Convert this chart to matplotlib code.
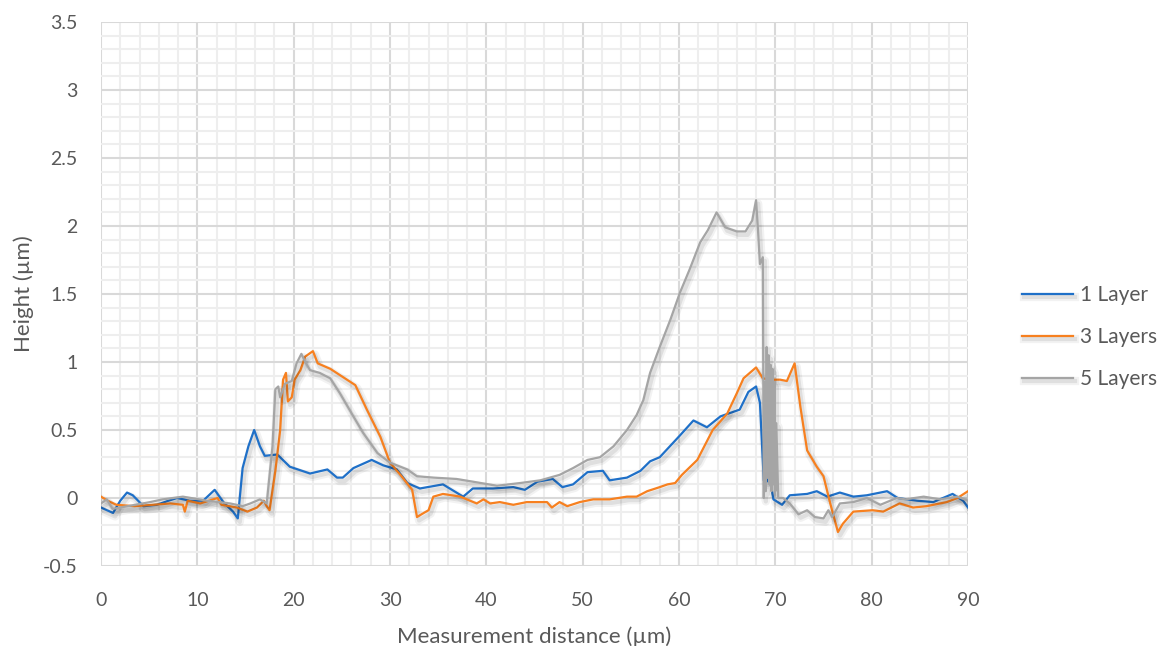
import numpy as np
import matplotlib
matplotlib.use("Agg")
import matplotlib.pyplot as plt
import matplotlib.patheffects as pe
from matplotlib.ticker import MultipleLocator

plt.rcParams['font.family'] = ['Lato', 'DejaVu Sans']

# 1 Layer
x1 = [0, 1.25, 2.0, 2.7, 3.3, 4.4, 5.8, 7.0, 7.9, 9.2, 10.6, 11.8, 12.7, 13.7, 14.2,
      14.7, 15.3, 15.9, 16.5, 17.0, 18.3, 19.6, 21.7, 23.5, 24.5, 25.1, 26.2, 28.1, 29.3, 30.7,
      31.8, 33.1, 35.5, 37.6, 38.6, 40.7, 42.8, 44.0, 45.3, 46.9, 47.9, 49.0, 50.5, 52.1, 52.8,
      54.6, 56.0, 57.0, 58.0, 60.1, 61.5, 62.9, 64.3, 66.3, 67.2, 68.0, 68.4, 68.8, 69.1, 69.4,
      69.8, 70.7, 71.5, 73.3, 74.3, 75.4, 76.7, 78.1, 79.5, 81.6, 82.7, 84.7, 86.4, 88.4, 89.5, 90]
y1 = [-0.07, -0.11, -0.02, 0.04, 0.02, -0.06, -0.05, -0.02, 0.0, -0.02, -0.02, 0.06, -0.03, -0.1, -0.15,
      0.22, 0.38, 0.5, 0.38, 0.31, 0.32, 0.23, 0.18, 0.21, 0.15, 0.15, 0.22, 0.28, 0.24, 0.21,
      0.11, 0.07, 0.1, 0.01, 0.07, 0.07, 0.08, 0.06, 0.12, 0.14, 0.08, 0.1, 0.19, 0.2, 0.13,
      0.15, 0.2, 0.27, 0.3, 0.46, 0.57, 0.52, 0.6, 0.65, 0.78, 0.82, 0.7, 0.13, 0.12, 0.15,
      -0.01, -0.05, 0.02, 0.03, 0.05, 0.01, 0.04, 0.01, 0.02, 0.05, 0.0, -0.02, -0.03, 0.03, -0.02, -0.07]

# 3 Layers
x3 = [0, 0.7, 1.6, 3.5, 5.4, 7.2, 8.5, 8.7, 9.0, 10.3, 12.1, 12.5, 14.1, 15.2, 16.2,
      16.9, 17.2, 17.5, 18.1, 18.6, 18.9, 19.2, 19.4, 19.8, 20.1, 20.7, 21.2, 22.0, 22.5, 23.8,
      25.1, 26.4, 27.6, 29.0, 30.0, 31.2, 32.3, 32.8, 33.5, 34.0, 34.5, 35.5, 37.3, 39.0, 39.7,
      40.4, 41.4, 42.8, 44.2, 46.3, 46.8, 47.6, 48.4, 49.7, 51.1, 52.8, 54.6, 55.6, 56.7, 58.0,
      58.8, 59.6, 60.3, 61.9, 63.5, 65.0, 66.0, 66.7, 68.0, 68.7, 69.5, 70.5, 71.2, 72.0, 72.6,
      73.3, 74.3, 75.0, 75.7, 76.5, 77.0, 78.1, 80.1, 81.2, 82.9, 84.3, 85.7, 87.8, 88.9, 90]
y3 = [0.01, -0.02, -0.05, -0.06, -0.05, -0.04, -0.05, -0.1, -0.02, -0.04, 0.0, -0.05, -0.07, -0.1, -0.07,
      -0.02, -0.06, -0.09, 0.2, 0.5, 0.87, 0.92, 0.71, 0.74, 0.87, 0.94, 1.04, 1.08, 0.99, 0.95,
      0.89, 0.83, 0.65, 0.45, 0.26, 0.16, 0.06, -0.14, -0.11, -0.09, 0.01, 0.03, 0.01, -0.04, -0.01,
      -0.04, -0.03, -0.05, -0.03, -0.03, -0.07, -0.03, -0.06, -0.03, -0.01, -0.01, 0.01, 0.01, 0.05, 0.08,
      0.1, 0.11, 0.17, 0.28, 0.5, 0.62, 0.77, 0.88, 0.96, 0.88, 0.87, 0.87, 0.86, 0.99, 0.67,
      0.35, 0.23, 0.16, -0.04, -0.25, -0.19, -0.1, -0.09, -0.1, -0.04, -0.07, -0.06, -0.03, 0.0, 0.05]

# 5 Layers
x5 = [0, 0.6, 1.2, 5.1, 6.4, 8.5, 11.0, 13.4, 14.7, 15.5, 16.5, 17.2, 17.8, 18.1, 18.4,
      18.6, 19.1, 19.8, 20.3, 20.8, 21.2, 21.7, 22.7, 23.8, 24.8, 26.2, 27.2, 28.7, 30.0, 31.8,
      32.8, 34.5, 36.9, 38.6, 41.1, 43.5, 45.6, 47.6, 49.0, 50.5, 51.8, 53.2, 54.6, 55.6, 56.3,
      57.0, 58.0, 59.1, 60.1, 61.1, 62.2, 63.0, 63.9, 64.8, 66.0, 66.9, 67.6, 68.0, 68.2, 68.4,
      68.7, 68.8, 68.9, 69.0, 69.1, 69.2, 69.3, 69.4, 69.5, 69.6, 69.7, 69.8, 69.9, 70.0, 70.1,
      70.3, 70.8, 71.5, 72.4, 73.3, 74.1, 75.0, 75.5, 75.9, 76.7, 78.1, 79.5, 80.9, 82.6, 83.5,
      85.4, 87.1, 88.9, 90]
y5 = [-0.04, -0.01, -0.08, -0.03, -0.01, 0.01, -0.02, -0.04, -0.06, -0.04, -0.01, -0.04, 0.38, 0.8, 0.82,
      0.74, 0.84, 0.86, 0.99, 1.06, 1.0, 0.94, 0.92, 0.88, 0.77, 0.6, 0.48, 0.33, 0.26, 0.21,
      0.16, 0.15, 0.14, 0.12, 0.09, 0.11, 0.13, 0.17, 0.22, 0.28, 0.3, 0.38, 0.5, 0.61, 0.72,
      0.92, 1.11, 1.31, 1.51, 1.68, 1.88, 1.97, 2.1, 1.99, 1.96, 1.96, 2.04, 2.19, 1.97, 1.72,
      1.77, 0.0, 0.85, 0.05, 1.11, 0.15, 1.05, 0.1, 0.98, 0.05, 0.95, 0.1, 0.85, 0.05, 0.55,
      0.0, 0.0, -0.04, -0.12, -0.09, -0.14, -0.15, -0.09, -0.14, -0.04, -0.03, 0.0, -0.05, 0.0, -0.01,
      0.01, -0.01, 0.01, -0.02]

series = [(x1, y1, "1 Layer", "#1F70C8"),
          (x3, y3, "3 Layers", "#F7801F"),
          (x5, y5, "5 Layers", "#A5A5A5")]

fig = plt.figure(figsize=(11.64, 6.46), dpi=100)
ax = fig.add_axes([101/1164, 1-566/646, (968-101)/1164, (566-22)/646])

shadow = [pe.SimpleLineShadow(offset=(1.5, -2.5), shadow_color='k', alpha=0.05, linewidth=6),
          pe.SimpleLineShadow(offset=(1.5, -2.5), shadow_color='k', alpha=0.08, linewidth=3),
          pe.Normal()]
for xs, ys, lab, col in series:
    ax.plot(xs, ys, color=col, lw=1.6, label=lab, path_effects=shadow, zorder=3)

ax.set_xlim(0, 90)
ax.set_ylim(-0.5, 3.5)
ax.xaxis.set_major_locator(MultipleLocator(10))
ax.xaxis.set_minor_locator(MultipleLocator(2))
ax.yaxis.set_minor_locator(MultipleLocator(0.1))
ax.set_yticks(np.arange(-0.5, 3.51, 0.5))
ax.set_yticklabels(["-0.5", "0", "0.5", "1", "1.5", "2", "2.5", "3", "3.5"])
ax.grid(which='minor', color='#EEEEEE', lw=1.5, zorder=0)
ax.grid(which='major', color='#D9D9D9', lw=1.5, zorder=1)
ax.set_axisbelow(True)
for s in ax.spines.values():
    s.set_visible(False)
ax.tick_params(which='both', length=0, labelsize=14, labelcolor='#595959')
ax.tick_params(axis='x', pad=19)
ax.tick_params(axis='y', pad=17)

ax.set_xlabel("Measurement distance (µm)", fontsize=16, color='#595959', labelpad=12)
ax.set_ylabel("Height (µm)", fontsize=16, color='#595959', labelpad=6)

fig.legend(loc='center left', bbox_to_anchor=(1022/1164, 1-337/646), frameon=False,
           fontsize=15, labelcolor='#595959', handlelength=2.45, handletextpad=0.35,
           labelspacing=1.05, borderpad=0, borderaxespad=0)

fig.savefig("out.png", dpi=100, facecolor='white')
